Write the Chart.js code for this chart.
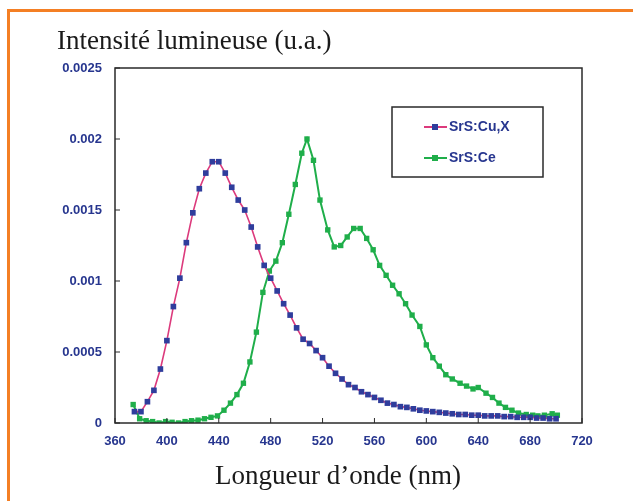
<!DOCTYPE html>
<html>
<head>
<meta charset="utf-8">
<script src="https://cdn.jsdelivr.net/npm/chart.js@4.4.1/dist/chart.umd.min.js"></script>
<style>
html, body { margin: 0; padding: 0; background: #fff; }
#wrap { position: relative; width: 633px; height: 501px; overflow: hidden; background: #fff; }
#frame { position: absolute; left: 7px; top: 9px; right: -10px; bottom: -10px;
  border-left: 3px solid #f47f24; border-top: 3px solid #f47f24; }
canvas { position: absolute; left: 0; top: 0; }
.lbl { position: absolute; font-family: "Liberation Serif", serif; font-size: 27px; color: #1a1a1a; white-space: nowrap; line-height: 1; }
</style>
</head>
<body>
<div id="wrap">
  <div id="frame"></div>
  <canvas id="c" width="633" height="501"></canvas>
  <div class="lbl" style="left:57px; top:27px;">Intensité lumineuse (u.a.)</div>
  <div class="lbl" style="left:215px; top:462px;">Longueur d’onde (nm)</div>
</div>
<script>
// series names
const seriesNames = ['SrS:Cu,X', 'SrS:Ce'];

// SrS:Cu,X  (nm, intensity)
const cuWavelength = [375, 380, 385, 390, 395, 400, 405, 410, 415, 420, 425, 430, 435, 440, 445, 450,
  455, 460, 465, 470, 475, 480, 485, 490, 495, 500, 505, 510, 515, 520, 525, 530, 535, 540, 545, 550,
  555, 560, 565, 570, 575, 580, 585, 590, 595, 600, 605, 610, 615, 620, 625, 630, 635, 640, 645, 650,
  655, 660, 665, 670, 675, 680, 685, 690, 695, 700];
const cuIntensity = [0.00008, 0.00008, 0.00015, 0.00023, 0.00038, 0.00058, 0.00082, 0.00102, 0.00127,
  0.00148, 0.00165, 0.00176, 0.00184, 0.00184, 0.00176, 0.00166, 0.00157, 0.0015, 0.00138, 0.00124,
  0.00111, 0.00102, 0.00093, 0.00084, 0.00076, 0.00067, 0.00059, 0.00056, 0.00051, 0.00046, 0.0004,
  0.00035, 0.00031, 0.00027, 0.00025, 0.00022, 0.0002, 0.00018, 0.00016, 0.00014, 0.00013, 0.000115,
  0.00011, 0.0001, 0.00009, 0.000085, 0.00008, 0.000075, 0.00007, 0.000065, 0.00006, 0.00006, 0.000055,
  0.000055, 0.00005, 0.00005, 0.00005, 0.000045, 0.000045, 0.00004, 0.00004, 0.00004, 0.000035,
  0.000035, 0.00003, 0.00003];

// SrS:Ce  (nm, intensity)
const ceWavelength = [374, 379, 384, 389, 394, 399, 404, 409, 414, 419, 424, 429, 434, 439, 444, 449,
  454, 459, 464, 469, 474, 479, 484, 489, 494, 499, 504, 508, 513, 518, 524, 529, 534, 539, 544, 549,
  554, 559, 564, 569, 574, 579, 584, 589, 595, 600, 605, 610, 615, 620, 626, 631, 636, 640, 646, 651,
  656, 661, 666, 671, 677, 682, 686, 691, 697, 701];
const ceIntensity = [0.00013, 0.00003, 0.000016, 0.00001, 0.0, 0.00001, 0.000005, 0.0, 0.00001,
  0.000016, 0.00002, 0.00003, 0.00004, 0.00005, 0.00009, 0.00014, 0.0002, 0.00028, 0.00043, 0.00064,
  0.00092, 0.00107, 0.00114, 0.00127, 0.00147, 0.00168, 0.0019, 0.002, 0.00185, 0.00157, 0.00136,
  0.00124, 0.00125, 0.00131, 0.00137, 0.00137, 0.0013, 0.00122, 0.00111, 0.00104, 0.00097, 0.00091,
  0.00084, 0.00076, 0.00068, 0.00055, 0.00046, 0.0004, 0.00034, 0.00031, 0.00028, 0.00026, 0.00024,
  0.00025, 0.00021, 0.00018, 0.00014, 0.00011, 0.00009, 0.00007, 0.00006, 0.000055, 0.00005,
  0.000055, 0.000065, 0.000055];

// axes
const xTicks = [360, 400, 440, 480, 520, 560, 600, 640, 680, 720];
const yTicks = [0, 0.0005, 0.001, 0.0015, 0.002, 0.0025];
const yTickLabels = ['0', '0.0005', '0.001', '0.0015', '0.002', '0.0025'];

const tickBlue = '#27368f';
const frameColor = '#2a2a2a';

function toPoints(xs, ys) {
  return xs.map((x, i) => ({ x: x, y: ys[i] }));
}

// plot frame + inward tick marks
const frameTicks = {
  id: 'frameTicks',
  afterDatasetsDraw(chart) {
    const { ctx, chartArea, scales } = chart;
    ctx.save();
    ctx.strokeStyle = frameColor;
    ctx.lineWidth = 1.5;
    ctx.strokeRect(chartArea.left, chartArea.top, chartArea.right - chartArea.left, chartArea.bottom - chartArea.top);
    ctx.lineWidth = 1;
    ctx.beginPath();
    xTicks.forEach(v => {
      const px = scales.x.getPixelForValue(v);
      ctx.moveTo(px, chartArea.bottom);
      ctx.lineTo(px, chartArea.bottom - 5);
    });
    yTicks.forEach(v => {
      const py = scales.y.getPixelForValue(v);
      ctx.moveTo(chartArea.left, py);
      ctx.lineTo(chartArea.left + 5, py);
    });
    ctx.stroke();
    ctx.restore();
  }
};

// boxed legend inside the plot
const boxLegend = {
  id: 'boxLegend',
  afterDraw(chart) {
    const ctx = chart.ctx;
    const bx = 392, by = 107, bw = 151, bh = 70;
    ctx.save();
    ctx.fillStyle = '#fff';
    ctx.fillRect(bx, by, bw, bh);
    ctx.strokeStyle = frameColor;
    ctx.lineWidth = 1.5;
    ctx.strokeRect(bx, by, bw, bh);
    const rows = [127, 158];
    chart.data.datasets.forEach((ds, i) => {
      const y = rows[i];
      ctx.strokeStyle = ds.borderColor;
      ctx.lineWidth = 2;
      ctx.beginPath();
      ctx.moveTo(424, y);
      ctx.lineTo(447, y);
      ctx.stroke();
      ctx.fillStyle = ds.pointBackgroundColor;
      ctx.fillRect(432, y - 3, 6, 6);
      ctx.fillStyle = tickBlue;
      ctx.font = 'bold 14px "Liberation Sans", Arial, sans-serif';
      ctx.textBaseline = 'middle';
      ctx.textAlign = 'left';
      ctx.fillText(ds.label, 449, y);
    });
    ctx.restore();
  }
};

new Chart(document.getElementById('c'), {
  type: 'line',
  data: {
    datasets: [
      {
        label: seriesNames[0],
        data: toPoints(cuWavelength, cuIntensity),
        borderColor: '#dc3a7c',
        borderWidth: 1.6,
        pointStyle: 'rect',
        pointRadius: 4,
        pointBackgroundColor: '#2f3d9c',
        pointBorderWidth: 0,
        tension: 0
      },
      {
        label: seriesNames[1],
        data: toPoints(ceWavelength, ceIntensity),
        borderColor: '#1fae4a',
        borderWidth: 2,
        pointStyle: 'rect',
        pointRadius: 3.8,
        pointBackgroundColor: '#1fae4a',
        pointBorderWidth: 0,
        tension: 0
      }
    ]
  },
  options: {
    responsive: false,
    animation: false,
    layout: { padding: { top: 68, right: 51, left: 0, bottom: 0 } },
    plugins: { legend: { display: false }, tooltip: { enabled: false } },
    scales: {
      x: {
        type: 'linear',
        min: 360,
        max: 720,
        afterBuildTicks: s => { s.ticks = xTicks.map(v => ({ value: v })); },
        afterFit: s => { s.height = 78; },
        grid: { display: false, drawTicks: false },
        border: { display: false },
        ticks: {
          color: tickBlue,
          padding: 11,
          maxRotation: 0,
          autoSkip: false,
          font: { family: '"Liberation Sans", Arial, sans-serif', size: 13, weight: 'bold' }
        }
      },
      y: {
        min: 0,
        max: 0.0025,
        afterBuildTicks: s => { s.ticks = yTicks.map(v => ({ value: v })); },
        afterFit: s => { s.width = 115; },
        grid: { display: false, drawTicks: false },
        border: { display: false },
        ticks: {
          color: tickBlue,
          padding: 13,
          autoSkip: false,
          callback: (v) => yTickLabels[yTicks.indexOf(v)],
          font: { family: '"Liberation Sans", Arial, sans-serif', size: 13, weight: 'bold' }
        }
      }
    }
  },
  plugins: [frameTicks, boxLegend]
});
</script>
</body>
</html>
